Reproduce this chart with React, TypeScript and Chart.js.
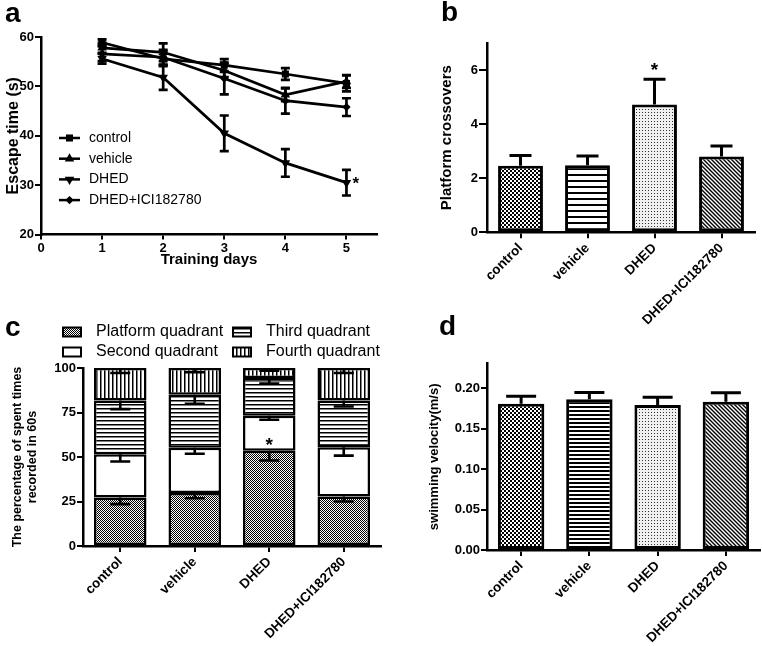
import React, { useEffect, useRef } from 'react';
import { Chart, registerables } from 'chart.js';
import { drawPoint } from 'chart.js/helpers';

Chart.register(...registerables);

const FONT = '"Liberation Sans", Arial, Helvetica, sans-serif';

// ---------- Panel a: escape time ----------
const trainingDays = [1, 2, 3, 4, 5];
const dayTicks = [0, 1, 2, 3, 4, 5];
const escapeTicks = [20, 30, 40, 50, 60];
const lineGroups = ['control', 'vehicle', 'DHED', 'DHED+ICI182780'];
const escapeControl = [58.9, 55.6, 54.3, 52.5, 50.6];
const escapeControlErr = [0.6, 1.5, 1.2, 1.2, 1.6];
const escapeVehicle = [57.8, 56.9, 53.2, 48.3, 51.0];
const escapeVehicleErr = [1.0, 1.8, 1.3, 1.3, 1.3];
const escapeDhed = [55.6, 51.8, 40.5, 34.5, 30.5];
const escapeDhedErr = [1.0, 2.5, 3.6, 2.8, 2.6];
const escapeIci = [56.6, 55.9, 51.6, 47.1, 45.8];
const escapeIciErr = [1.5, 1.5, 3.2, 2.6, 1.8];

// ---------- Panel b: platform crossovers ----------
const groups = ['control', 'vehicle', 'DHED', 'DHED+ICI182780'];
const crossovers = [2.46, 2.48, 4.73, 2.8];
const crossoversErr = [0.38, 0.34, 0.93, 0.39];
const crossoverTicks = [0, 2, 4, 6];

// ---------- Panel c: quadrant time ----------
const quadrants = ['Platform quadrant', 'Second quadrant', 'Third quadrant', 'Fourth quadrant'];
const platformPct = [27.2, 29.8, 53.5, 27.8];
const platformErr = [3.7, 3.0, 5.5, 2.8];
const secondPct = [24.3, 25.4, 19.7, 27.7];
const secondErr = [4.0, 3.4, 2.3, 4.7];
const thirdPct = [30.3, 29.8, 21.2, 26.3];
const thirdErr = [4.9, 5.1, 3.2, 3.4];
const fourthPct = [18.2, 15.0, 5.6, 18.2];
const fourthErr = [2.8, 2.4, 1.5, 2.8];
const percentTicks = [0, 25, 50, 75, 100];

// ---------- Panel d: swimming velocity ----------
const velocity = [0.1805, 0.1862, 0.179, 0.183];
const velocityErr = [0.0092, 0.0082, 0.0095, 0.011];
const velocityTicks = [0, 0.05, 0.1, 0.15, 0.2];

// ---------- patterns ----------
function makeCanvas(w: number, h: number, bg: string) {
  const c = document.createElement('canvas');
  c.width = w; c.height = h;
  const g = c.getContext('2d')!;
  g.fillStyle = bg; g.fillRect(0, 0, w, h);
  return { c, g };
}
function toPattern(c: HTMLCanvasElement) {
  const tmp = document.createElement('canvas').getContext('2d')!;
  return tmp.createPattern(c, 'repeat')!;
}
function checker(cell: number) {
  const { c, g } = makeCanvas(cell * 2, cell * 2, '#fff');
  g.fillStyle = '#000';
  g.fillRect(0, 0, cell, cell);
  g.fillRect(cell, cell, cell, cell);
  return toPattern(c);
}
function hLines(period: number, thick: number) {
  const { c, g } = makeCanvas(4, period, '#fff');
  g.fillStyle = '#000';
  g.fillRect(0, 0, 4, thick);
  return toPattern(c);
}
function vLines(period: number, thick: number) {
  const { c, g } = makeCanvas(period, 4, '#fff');
  g.fillStyle = '#000';
  g.fillRect(0, 0, thick, 4);
  return toPattern(c);
}
function dots(period: number) {
  const { c, g } = makeCanvas(period, period, '#f0f0f0');
  g.fillStyle = '#333';
  g.fillRect(1, 1, 1, 1);
  return toPattern(c);
}
function diag(period: number, lw: number) {
  const { c, g } = makeCanvas(period, period, '#fff');
  g.strokeStyle = '#000';
  g.lineWidth = lw;
  g.beginPath();
  for (let k = -1; k <= 1; k++) {
    g.moveTo(k * period - 1, -1);
    g.lineTo(k * period + period + 1, period + 1);
  }
  g.stroke();
  return toPattern(c);
}

// ---------- helpers ----------
const tickFont = { family: FONT, size: 13, weight: 'bold' as const };
const catFont = { family: FONT, size: 13.5, weight: 'bold' as const };

function axis(extra: any) {
  return {
    grid: {
      display: true, drawOnChartArea: false, drawTicks: true, tickLength: 6,
      tickWidth: 2, tickColor: '#000', color: '#000', lineWidth: 2, offset: false,
    },
    border: { display: true, color: '#000', width: 2.5 },
    ...extra,
    ticks: { color: '#000', font: tickFont, padding: 1, ...(extra.ticks || {}) },
  };
}

function star(ctx: CanvasRenderingContext2D, x: number, cy: number, size: number, align: CanvasTextAlign = 'center') {
  ctx.save();
  ctx.fillStyle = '#000';
  ctx.font = `bold ${size}px ${FONT}`;
  ctx.textAlign = align;
  ctx.textBaseline = 'alphabetic';
  ctx.fillText('*', x, cy + size * 0.55);
  ctx.restore();
}

function barErrorPlugin(capHalf: number, lw: number, starIndex: number | null) {
  return {
    id: 'barErr',
    afterDatasetsDraw(chart: any) {
      const ctx = chart.ctx;
      const y = chart.scales.y;
      chart.data.datasets.forEach((ds: any, di: number) => {
        const meta = chart.getDatasetMeta(di);
        meta.data.forEach((bar: any, i: number) => {
          const v = ds.data[i];
          const e = ds.errors[i];
          const x = bar.x;
          const y0 = y.getPixelForValue(v);
          const y1 = y.getPixelForValue(v + e);
          ctx.save();
          ctx.strokeStyle = '#000';
          ctx.lineWidth = lw;
          ctx.beginPath();
          ctx.moveTo(x, y0); ctx.lineTo(x, y1);
          ctx.moveTo(x - capHalf, y1); ctx.lineTo(x + capHalf, y1);
          ctx.stroke();
          ctx.restore();
          if (starIndex === i) star(ctx, x, y1 - 14, 19);
        });
      });
    },
  };
}

type PanelProps = { left: number; top: number; width: number; height: number; build: () => any };

function Panel({ left, top, width, height, build }: PanelProps) {
  const ref = useRef<HTMLCanvasElement>(null);
  useEffect(() => {
    const chart = new Chart(ref.current as HTMLCanvasElement, build());
    return () => chart.destroy();
  }, []);
  return (
    <canvas
      ref={ref}
      width={width}
      height={height}
      style={{ position: 'absolute', left, top, width, height }}
    />
  );
}

const baseOptions = {
  animation: false,
  responsive: false,
  maintainAspectRatio: false,
  devicePixelRatio: 1,
  events: [],
};

// ---------- Panel a ----------
function buildA() {
  const series = [
    { values: escapeControl, err: escapeControlErr, style: 'rect', rot: 0, r: 5 },
    { values: escapeVehicle, err: escapeVehicleErr, style: 'triangle', rot: 0, r: 5.5 },
    { values: escapeDhed, err: escapeDhedErr, style: 'triangle', rot: 180, r: 5.5 },
    { values: escapeIci, err: escapeIciErr, style: 'rectRot', rot: 0, r: 4.2 },
  ];
  const errPlugin = {
    id: 'lineErr',
    afterDatasetsDraw(chart: any) {
      const { ctx, scales } = chart;
      ctx.save();
      ctx.strokeStyle = '#000';
      ctx.lineWidth = 2.7;
      chart.data.datasets.forEach((ds: any) => {
        ds.data.forEach((p: any, j: number) => {
          const e = ds.errors[j];
          const px = scales.x.getPixelForValue(p.x);
          const t = scales.y.getPixelForValue(p.y + e);
          const b = scales.y.getPixelForValue(p.y - e);
          ctx.beginPath();
          ctx.moveTo(px, t); ctx.lineTo(px, b);
          ctx.moveTo(px - 4.5, t); ctx.lineTo(px + 4.5, t);
          ctx.moveTo(px - 4.5, b); ctx.lineTo(px + 4.5, b);
          ctx.stroke();
        });
      });
      ctx.restore();
      const d = chart.data.datasets[2];
      const last = d.data[d.data.length - 1];
      star(ctx, scales.x.getPixelForValue(last.x) + 6, scales.y.getPixelForValue(last.y) - 3, 17, 'left');
    },
  };
  const legendPlugin = {
    id: 'legendA',
    afterDraw(chart: any) {
      const ctx = chart.ctx;
      chart.data.datasets.forEach((ds: any, i: number) => {
        const y = 138 + i * 20.7;
        ctx.save();
        ctx.strokeStyle = '#000';
        ctx.lineWidth = 2.5;
        ctx.beginPath(); ctx.moveTo(59, y); ctx.lineTo(80, y); ctx.stroke();
        ctx.fillStyle = '#000';
        drawPoint(ctx, { pointStyle: ds.pointStyle, rotation: ds.pointRotation, radius: ds.pointRadius, borderWidth: 0 } as any, 69.5, y);
        ctx.font = `14px ${FONT}`;
        ctx.textBaseline = 'middle';
        ctx.textAlign = 'left';
        ctx.fillText(ds.label, 89, y);
        ctx.restore();
      });
    },
  };
  return {
    type: 'line',
    data: {
      datasets: series.map((s, i) => ({
        label: lineGroups[i],
        data: trainingDays.map((d, j) => ({ x: d, y: s.values[j] })),
        errors: s.err,
        borderColor: '#000',
        backgroundColor: '#000',
        borderWidth: 2.7,
        pointStyle: s.style,
        pointRotation: s.rot,
        pointRadius: s.r,
        pointBorderWidth: 0,
        pointBackgroundColor: '#000',
        tension: 0,
      })),
    },
    options: {
      ...baseOptions,
      layout: { padding: { left: 0, top: 37, right: 3, bottom: 11 }, autoPadding: false },
      plugins: { legend: { display: false }, tooltip: { enabled: false } },
      scales: {
        x: axis({
          type: 'linear', min: 0, max: 5.5,
          afterBuildTicks: (s: any) => { s.ticks = dayTicks.map((v) => ({ value: v })); },
          afterFit: (s: any) => { s.height = 34.5; },
          ticks: { padding: 1 },
          grid: {
            display: true, drawOnChartArea: false, drawTicks: true, tickLength: 5,
            tickWidth: 2, tickColor: '#000', color: '#000', lineWidth: 2,
          },
          title: { display: true, text: 'Training days', color: '#000', font: { family: FONT, size: 15, weight: 'bold' }, padding: { top: 0, bottom: 0 } },
        }),
        y: axis({
          min: 20, max: 60,
          afterBuildTicks: (s: any) => { s.ticks = escapeTicks.map((v) => ({ value: v })); },
          afterFit: (s: any) => { s.width = 41; },
          title: { display: true, text: 'Escape time (s)', color: '#000', font: { family: FONT, size: 16, weight: 'bold' }, padding: { top: 4.4, bottom: 0 } },
        }),
      },
    },
    plugins: [errPlugin, legendPlugin],
  };
}

// ---------- Panel b ----------
function buildB() {
  return {
    type: 'bar',
    data: {
      labels: groups,
      datasets: [{
        label: 'Platform crossovers',
        data: crossovers,
        errors: crossoversErr,
        backgroundColor: [checker(2), hLines(6, 2), dots(3), diag(4, 1.4)],
        borderColor: '#000',
        borderWidth: 3,
        borderSkipped: false,
        barPercentage: 0.67,
        categoryPercentage: 1,
      }],
    },
    options: {
      ...baseOptions,
      layout: { padding: { left: 0, top: 43, right: 7, bottom: 0 }, autoPadding: false },
      plugins: { legend: { display: false }, tooltip: { enabled: false } },
      scales: {
        x: axis({
          afterFit: (s: any) => { s.height = 97.7; },
          ticks: { minRotation: 45, maxRotation: 45, padding: 2, font: catFont },
        }),
        y: axis({
          min: 0, max: 7,
          afterBuildTicks: (s: any) => { s.ticks = crossoverTicks.map((v) => ({ value: v })); },
          afterFit: (s: any) => { s.width = 107; },
          grid: {
            display: true, drawOnChartArea: false, drawTicks: true, tickLength: 8,
            tickWidth: 2, tickColor: '#000', color: '#000', lineWidth: 2,
          },
          title: { display: true, text: 'Platform crossovers', color: '#000', font: { family: FONT, size: 15, weight: 'bold' }, padding: { top: 58, bottom: 0 } },
        }),
      },
    },
    plugins: [barErrorPlugin(11, 3, 2)],
  };
}

// ---------- Panel c ----------
function buildC() {
  const fills = [checker(1), '#ffffff', hLines(4, 1.5), vLines(4, 1.5)];
  const values = [platformPct, secondPct, thirdPct, fourthPct];
  const errs = [platformErr, secondErr, thirdErr, fourthErr];
  const stackErr = {
    id: 'stackErr',
    afterDatasetsDraw(chart: any) {
      const ctx = chart.ctx;
      const y = chart.scales.y;
      const cum = groups.map(() => 0);
      chart.data.datasets.forEach((ds: any, di: number) => {
        const meta = chart.getDatasetMeta(di);
        meta.data.forEach((bar: any, i: number) => {
          cum[i] += ds.data[i];
          const t = y.getPixelForValue(cum[i]);
          const b = y.getPixelForValue(cum[i] - ds.errors[i]);
          ctx.save();
          ctx.strokeStyle = '#000';
          ctx.lineWidth = 2.6;
          ctx.beginPath();
          ctx.moveTo(bar.x, t); ctx.lineTo(bar.x, b);
          ctx.moveTo(bar.x - 10, b); ctx.lineTo(bar.x + 10, b);
          ctx.stroke();
          ctx.restore();
        });
      });
      const dm = chart.getDatasetMeta(1).data[2];
      star(ctx, dm.x, y.getPixelForValue(platformPct[2] + secondPct[2] * 0.3), 19);
    },
  };
  const legendC = {
    id: 'legendC',
    afterDraw(chart: any) {
      const ctx = chart.ctx;
      const cols = [63, 233];
      const rows = [32, 52];
      chart.data.datasets.forEach((ds: any, i: number) => {
        const bx = cols[Math.floor(i / 2)];
        const by = rows[i % 2];
        ctx.save();
        ctx.fillStyle = ds.backgroundColor;
        ctx.fillRect(bx, by - 4.5, 18, 9);
        ctx.strokeStyle = '#000';
        ctx.lineWidth = 2;
        ctx.strokeRect(bx, by - 4.5, 18, 9);
        ctx.fillStyle = '#000';
        ctx.font = `16px ${FONT}`;
        ctx.textBaseline = 'middle';
        ctx.textAlign = 'left';
        ctx.fillText(ds.label, bx + 33, by);
        ctx.restore();
      });
    },
  };
  return {
    type: 'bar',
    data: {
      labels: groups,
      datasets: quadrants.map((q, i) => ({
        label: q,
        data: values[i],
        errors: errs[i],
        backgroundColor: fills[i],
        borderColor: '#000',
        borderWidth: 2.5,
        borderSkipped: false,
        barPercentage: 0.705,
        categoryPercentage: 1,
      })),
    },
    options: {
      ...baseOptions,
      layout: { padding: { left: 0, top: 68, right: 9, bottom: 0 }, autoPadding: false },
      plugins: { legend: { display: false }, tooltip: { enabled: false } },
      scales: {
        x: axis({
          stacked: true,
          afterFit: (s: any) => { s.height = 100; },
          ticks: { minRotation: 45, maxRotation: 45, padding: 2, font: catFont },
        }),
        y: axis({
          stacked: true,
          min: 0, max: 100,
          afterBuildTicks: (s: any) => { s.ticks = percentTicks.map((v) => ({ value: v })); },
          afterFit: (s: any) => { s.width = 83; },
          title: {
            display: true,
            text: ['The percentage of spent times', 'recorded in 60s'],
            color: '#000',
            font: { family: FONT, size: 12.5, weight: 'bold', lineHeight: 1.2 },
            padding: { top: 10.5, bottom: 0 },
          },
        }),
      },
    },
    plugins: [stackErr, legendC],
  };
}

// ---------- Panel d ----------
function buildD() {
  return {
    type: 'bar',
    data: {
      labels: groups,
      datasets: [{
        label: 'swimming velocity',
        data: velocity,
        errors: velocityErr,
        backgroundColor: [checker(2), hLines(4, 2), dots(3), diag(4, 1.4)],
        borderColor: '#000',
        borderWidth: 3,
        borderSkipped: false,
        barPercentage: 0.68,
        categoryPercentage: 1,
      }],
    },
    options: {
      ...baseOptions,
      layout: { padding: { left: 0, top: 33.7, right: 2, bottom: 0 }, autoPadding: false },
      plugins: { legend: { display: false }, tooltip: { enabled: false } },
      scales: {
        x: axis({
          afterFit: (s: any) => { s.height = 96; },
          ticks: { minRotation: 45, maxRotation: 45, padding: 2, font: catFont },
        }),
        y: axis({
          min: 0, max: 0.23,
          afterBuildTicks: (s: any) => { s.ticks = velocityTicks.map((v) => ({ value: v })); },
          afterFit: (s: any) => { s.width = 107; },
          ticks: { callback: (v: any) => Number(v).toFixed(2) },
          title: { display: true, text: 'swimming velocity(m/s)', color: '#000', font: { family: FONT, size: 13, weight: 'bold' }, padding: { top: 47, bottom: 0 } },
        }),
      },
    },
    plugins: [barErrorPlugin(15, 3, null)],
  };
}

const letterStyle = (left: number, top: number): React.CSSProperties => ({
  position: 'absolute', left, top, margin: 0, font: `bold 28px ${FONT}`, lineHeight: '28px', color: '#000',
});

export default function App() {
  return (
    <div style={{ position: 'absolute', left: 0, top: 0, width: 762, height: 646, background: '#fff', overflow: 'hidden' }}>
      <Panel left={0} top={0} width={380} height={280} build={buildA} />
      <Panel left={380} top={0} width={382} height={330} build={buildB} />
      <Panel left={0} top={300} width={390} height={346} build={buildC} />
      <Panel left={380} top={330} width={382} height={316} build={buildD} />
      <div style={letterStyle(5, -1)}>a</div>
      <div style={letterStyle(441, -2)}>b</div>
      <div style={letterStyle(5, 313)}>c</div>
      <div style={letterStyle(439, 312)}>d</div>
    </div>
  );
}
